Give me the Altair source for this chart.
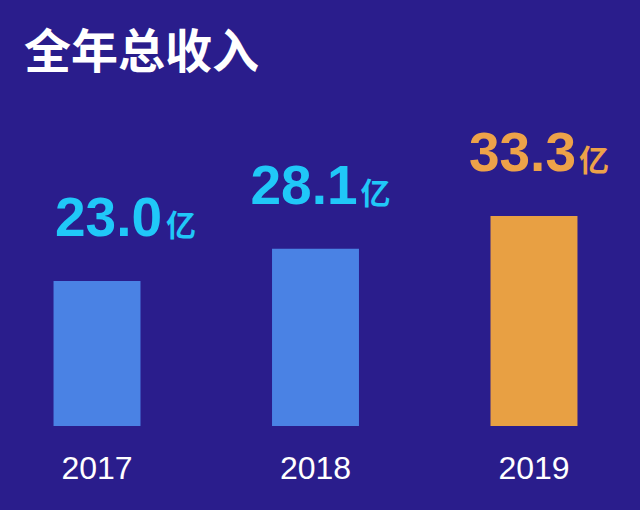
import altair as alt
import pandas as pd

years = ["2017", "2018", "2019"]
revenue = [23.0, 28.1, 33.3]
bar_colors = ["#4a82e4", "#4a82e4", "#e8a043"]
label_colors = ["#20c8f8", "#20c8f8", "#eda249"]
title_text = "全年总收入"
unit = "亿"

df = pd.DataFrame({"year": years, "revenue": revenue,
                   "label": [f"{v:.1f}" for v in revenue], "unit": unit})

BG = "#2a1d8c"

x = alt.X("year:N", sort=years,
          scale=alt.Scale(paddingInner=0.602, paddingOuter=0.245),
          axis=alt.Axis(title=None, labelAngle=0, labelFontSize=32,
                        labelFont="Liberation Sans", labelColor="#ffffff",
                        labelPadding=27, ticks=False, tickSize=0, domain=False,
                        grid=False))
y = alt.Y("revenue:Q", scale=alt.Scale(domain=[0, 53.3], nice=False, zero=True),
          axis=None)
lab_color = alt.Color("year:N", scale=alt.Scale(domain=years, range=label_colors), legend=None)

bars = alt.Chart(df).mark_bar().encode(
    x=x, y=y,
    color=alt.Color("year:N", scale=alt.Scale(domain=years, range=bar_colors), legend=None),
)


def label_layers(flt, dx_num, dx_unit):
    base = alt.Chart(df).transform_filter(flt)
    n = base.mark_text(
        align="right", baseline="alphabetic", dx=dx_num, dy=-45,
        font="Liberation Sans", fontWeight="bold", fontSize=55,
    ).encode(x=alt.X("year:N", sort=years), y="revenue:Q", text="label:N", color=lab_color)
    u = base.mark_text(
        align="left", baseline="alphabetic", dx=dx_unit, dy=-45,
        font="Noto Sans CJK SC", fontWeight="bold", fontSize=30,
    ).encode(x=alt.X("year:N", sort=years), y="revenue:Q", text="unit:N", color=lab_color)
    return [n, u]


first = alt.datum.year == years[0]
rest = alt.datum.year != years[0]

layers = [bars] + label_layers(first, 65, 69) + label_layers(rest, 42, 45)

chart = alt.layer(*layers).resolve_scale(color="independent").properties(
    width=631, height=336,
    padding={"left": 0, "right": 9, "top": 90, "bottom": 84},
    autosize=alt.AutoSizeParams(type="none"),
    background=BG,
    title=alt.TitleParams(title_text, anchor="start", frame="group", dx=24, offset=-35,
                          baseline="bottom", font="Noto Sans CJK SC", fontSize=47,
                          fontWeight="bold", color="#ffffff"),
).configure_view(stroke=None)

chart.save("out.html", embed_options={"renderer": "svg", "actions": False})
